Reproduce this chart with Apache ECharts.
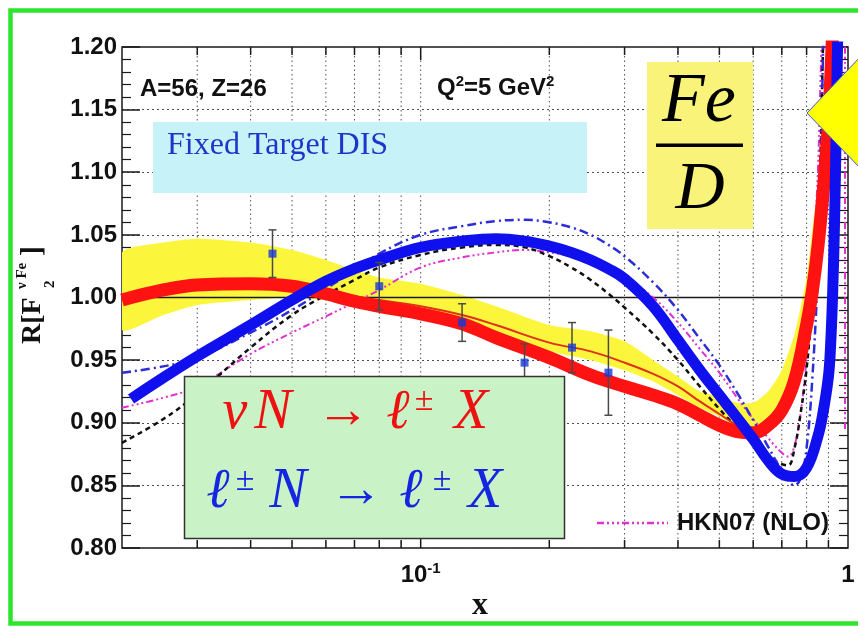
<!DOCTYPE html>
<html>
<head>
<meta charset="utf-8">
<title>R[F2] Fe/D</title>
<script src="https://cdn.jsdelivr.net/npm/echarts@6/dist/echarts.min.js"></script>
<style>
html,body{margin:0;padding:0;background:#fff;}
#chart{width:858px;height:628px;}
</style>
</head>
<body>
<div id="chart"></div>
<script>
// ---------------- data ----------------
const xGridValues = [0.03,0.04,0.05,0.06,0.07,0.08,0.09,0.1,0.2,0.3,0.4,0.5,0.6,0.7,0.8,0.9];
const xLabelValues = [0.1, 1];
const xLabelTexts = ['{m|10}{s|-1}', '{m|1}'];

const bandX  = [0.02,0.025,0.03,0.04,0.05,0.06,0.07,0.08,0.1,0.125,0.15,0.2,0.25,0.3,0.35,0.4,0.45,0.5,0.55,0.6,0.65,0.7,0.75,0.8,0.825,0.85,0.875];
const bandLo = [0.974,0.986,0.994,0.998,1.0,0.998,0.995,0.993,0.990,0.982,0.972,0.957,0.950,0.942,0.933,0.922,0.912,0.905,0.897,0.894,0.898,0.908,0.932,0.975,1.0,1.035,1.08];
const bandHi = [1.036,1.044,1.047,1.044,1.038,1.030,1.022,1.016,1.011,1.002,0.993,0.978,0.973,0.965,0.950,0.937,0.925,0.921,0.916,0.916,0.925,0.942,0.971,1.016,1.054,1.09,1.15];

const redThick = [[0.02,0.998],[0.025,1.006],[0.03,1.010],[0.04,1.011],[0.05,1.009],[0.06,1.003],[0.07,0.997],[0.08,0.993],[0.1,0.987],[0.125,0.979],[0.15,0.968],[0.2,0.952],[0.25,0.938],[0.3,0.929],[0.35,0.922],[0.4,0.915],[0.45,0.906],[0.5,0.898],[0.55,0.893],[0.6,0.892],[0.65,0.898],[0.7,0.910],[0.75,0.934],[0.8,0.978],[0.825,1.005],[0.85,1.04],[0.875,1.085],[0.9,1.14],[0.92,1.21]];
const redThin = [[0.02,0.998],[0.03,1.010],[0.04,1.011],[0.05,1.009],[0.06,1.005],[0.07,1.001],[0.08,0.998],[0.1,0.993],[0.125,0.986],[0.15,0.978],[0.2,0.964],[0.25,0.957],[0.3,0.948],[0.35,0.939],[0.4,0.929],[0.45,0.917],[0.5,0.907],[0.55,0.898],[0.6,0.893]];
const blueThick = [[0.021,0.919],[0.025,0.936],[0.03,0.953],[0.04,0.978],[0.05,0.998],[0.06,1.013],[0.07,1.023],[0.08,1.030],[0.1,1.040],[0.125,1.045],[0.15,1.047],[0.175,1.045],[0.2,1.041],[0.225,1.036],[0.25,1.030],[0.275,1.023],[0.3,1.015],[0.35,0.993],[0.4,0.966],[0.45,0.942],[0.5,0.922],[0.55,0.904],[0.6,0.887],[0.65,0.870],[0.7,0.859],[0.75,0.857],[0.8,0.864],[0.85,0.889],[0.875,0.909],[0.9,0.937],[0.91,0.96],[0.92,1.0],[0.93,1.06],[0.94,1.15],[0.95,1.25]];
const blackDashed = [[0.02,0.884],[0.025,0.903],[0.03,0.923],[0.04,0.960],[0.05,0.986],[0.06,1.002],[0.07,1.014],[0.08,1.024],[0.1,1.034],[0.125,1.040],[0.15,1.042],[0.175,1.040],[0.2,1.033],[0.225,1.024],[0.25,1.014],[0.275,1.003],[0.3,0.992],[0.35,0.971],[0.4,0.950],[0.45,0.929],[0.5,0.911],[0.55,0.896],[0.6,0.883],[0.65,0.873],[0.7,0.867],[0.725,0.866],[0.75,0.880],[0.775,0.908],[0.8,0.943],[0.825,0.995],[0.85,1.05],[0.86,1.10],[0.87,1.17],[0.88,1.25]];
const blueDashDot = [[0.02,0.940],[0.025,0.945],[0.03,0.952],[0.04,0.972],[0.05,0.990],[0.06,1.007],[0.07,1.022],[0.08,1.035],[0.1,1.050],[0.125,1.057],[0.15,1.061],[0.175,1.062],[0.2,1.060],[0.225,1.056],[0.25,1.050],[0.275,1.042],[0.3,1.033],[0.35,1.012],[0.4,0.990],[0.45,0.967],[0.5,0.946],[0.55,0.924],[0.6,0.902],[0.65,0.881],[0.7,0.862],[0.75,0.850],[0.775,0.856],[0.8,0.880],[0.825,0.935],[0.85,1.02],[0.86,1.08],[0.87,1.16],[0.88,1.25]];
const hkn07 = [[0.02,0.912],[0.025,0.920],[0.03,0.929],[0.04,0.955],[0.05,0.972],[0.06,0.985],[0.07,0.996],[0.08,1.006],[0.1,1.024],[0.125,1.032],[0.15,1.036],[0.175,1.038],[0.2,1.036],[0.225,1.033],[0.25,1.028],[0.275,1.023],[0.3,1.016],[0.35,1.0],[0.4,0.98],[0.45,0.959],[0.5,0.94],[0.55,0.92],[0.6,0.903],[0.65,0.888],[0.7,0.876],[0.725,0.873],[0.75,0.882],[0.775,0.908],[0.8,0.952],[0.825,1.015],[0.85,1.10],[0.86,1.16],[0.875,1.25]];
const hkn07Edge = [[0.984,0.895],[0.984,1.21]];

const dataX   = [0.045,0.08,0.125,0.175,0.226,0.275];
const dataY   = [1.035,1.009,0.980,0.948,0.960,0.940];
const dataErr = [0.019,0.019,0.015,0.015,0.020,0.034];

// ---------------- chart ----------------
const SANS = '"Liberation Sans", Arial, Helvetica, sans-serif';
const SERIF = '"Liberation Serif", "Times New Roman", "DejaVu Serif", serif';

function curve(name, data, color, width, dash, z) {
  return {type:'line', name, data, z, symbol:'none', showSymbol:false, smooth:0.4, clip:true, silent:true,
    lineStyle:{color, width, type: dash || 'solid', cap:'butt', join:'round'}};
}
function T(text, x, y, font, fill, align, vAlign, extra) {
  return Object.assign({type:'text', x, y, z:110, silent:true,
    style:{text, font, fill, align:align||'left', verticalAlign:vAlign||'middle',
           textAlign:align||'left', textVerticalAlign:vAlign||'middle'}}, extra||{});
}

const chart = echarts.init(document.getElementById('chart'), null, {renderer:'canvas'});

const yAxisBase = {
  type:'value', min:0.8, max:1.2, interval:0.05,
  axisLine:{show:false},
  axisTick:{show:true, inside:true, length:18, lineStyle:{color:'#1a1a1a', width:1.5}},
  minorTick:{show:true, splitNumber:5, length:9, lineStyle:{color:'#1a1a1a', width:1.2}}
};

const option = {
  animation:false,
  backgroundColor:'#ffffff',
  grid:{left:122, right:10, top:47, bottom:80, show:true, borderColor:'#1a1a1a', borderWidth:1.5, backgroundColor:'rgba(0,0,0,0)'},
  xAxis:{
    type:'log', logBase:10, min:0.02, max:1,
    axisLine:{show:false}, axisTick:{show:false}, splitLine:{show:false},
    axisLabel:{
      margin:13,
      formatter:function(v){
        const i = xLabelValues.findIndex(t => Math.abs(Math.log10(v) - Math.log10(t)) < 1e-6);
        return i < 0 ? '' : xLabelTexts[i];
      },
      rich:{
        m:{fontFamily:SANS, fontWeight:'bold', fontSize:24, color:'#111', lineHeight:28},
        s:{fontFamily:SANS, fontWeight:'bold', fontSize:15, color:'#111', lineHeight:16, verticalAlign:'top'}
      }
    }
  },
  yAxis:[
    Object.assign({}, yAxisBase, {
      position:'left',
      splitLine:{show:true, lineStyle:{color:'#505050', width:1, type:[2,3]}},
      axisLabel:{margin:5, formatter:v => v.toFixed(2), fontFamily:SANS, fontWeight:'bold', fontSize:24, color:'#111'}
    }),
    Object.assign({}, yAxisBase, {
      position:'right', splitLine:{show:false}, axisLabel:{show:false}
    })
  ],
  series:[
    { // vertical dotted grid + x ticks (log axis minor positions)
      type:'custom', z:1, silent:true, clip:false,
      data:xGridValues.map(v => [v, 1.0]),
      renderItem:function(params, api){
        const v = api.value(0);
        const top = api.coord([v, 1.2]), bot = api.coord([v, 0.8]);
        const tl = Math.abs(v - 0.1) < 1e-9 ? 13 : 8;
        return {type:'group', children:[
          {type:'line', shape:{x1:top[0], y1:top[1], x2:bot[0], y2:bot[1]}, style:{stroke:'#505050', lineWidth:1, lineDash:[1.5,3]}},
          {type:'line', shape:{x1:bot[0], y1:bot[1], x2:bot[0], y2:bot[1]-tl}, style:{stroke:'#1a1a1a', lineWidth:1.5}},
          {type:'line', shape:{x1:top[0], y1:top[1], x2:top[0], y2:top[1]+tl}, style:{stroke:'#1a1a1a', lineWidth:1.5}}
        ]};
      }
    },
    { // yellow uncertainty band
      type:'custom', z:2, silent:true, clip:true,
      data:bandX.map((x,i) => [x, bandLo[i], bandHi[i]]),
      renderItem:function(params, api){
        if (params.dataIndex !== 0) return null;
        const up = bandX.map((x,i) => api.coord([x, bandHi[i]]));
        const lo = bandX.map((x,i) => api.coord([x, bandLo[i]])).reverse();
        return {type:'polygon', shape:{points:up.concat(lo), smooth:0.2}, style:{fill:'#fbf63c'}};
      }
    },
    { // solid reference line at 1.00
      type:'custom', z:3, silent:true, clip:true,
      data:[[0.1, 1.0]],
      renderItem:function(params, api){
        const a = api.coord([0.02, api.value(1)]), b = api.coord([1, api.value(1)]);
        return {type:'line', shape:{x1:a[0], y1:a[1], x2:b[0], y2:b[1]}, style:{stroke:'#1a1a1a', lineWidth:1.5}};
      }
    },
    curve('HKN07 (NLO)', hkn07, '#e030d0', 2, [7,3,2,3,2,3,2,3], 4),
    curve('HKN07 edge', hkn07Edge, '#e030d0', 2, [7,3,2,3,2,3,2,3], 4),
    curve('black', blackDashed, '#111111', 2.5, [5,4], 4),
    curve('blue dash-dot', blueDashDot, '#2c2cd8', 2.5, [9,4,2,4], 4),
    curve('red thin', redThin, '#e0301a', 2, null, 4),
    curve('nuN', redThick, '#ff1212', 13, null, 5),
    curve('lN', blueThick, '#1010ee', 11, null, 6),
    { // error bars
      type:'custom', z:7, silent:true, clip:true,
      data:dataX.map((x,i) => [x, dataY[i]-dataErr[i], dataY[i]+dataErr[i]]),
      renderItem:function(params, api){
        const x = api.value(0);
        const lo = api.coord([x, api.value(1)]), hi = api.coord([x, api.value(2)]);
        const w = 4, st = {stroke:'#4a4a4a', lineWidth:1.5};
        return {type:'group', children:[
          {type:'line', shape:{x1:lo[0], y1:lo[1], x2:hi[0], y2:hi[1]}, style:st},
          {type:'line', shape:{x1:hi[0]-w, y1:hi[1], x2:hi[0]+w, y2:hi[1]}, style:st},
          {type:'line', shape:{x1:lo[0]-w, y1:lo[1], x2:lo[0]+w, y2:lo[1]}, style:st}
        ]};
      }
    },
    {
      type:'scatter', z:8, silent:true, symbol:'rect', symbolSize:8,
      itemStyle:{color:'#1838d8'},
      data:dataX.map((x,i) => [x, dataY[i]])
    }
  ],
  graphic:[
    // outer green frame
    {type:'rect', z:200, silent:true, shape:{x:10.5, y:10.5, width:900, height:613}, style:{fill:'none', stroke:'#2ee52e', lineWidth:4.5}},
    // texts top-left
    T('A=56, Z=26', 140, 89, 'bold 24px ' + SANS, '#111'),
    {type:'text', x:437, y:88, z:110, silent:true, style:{
      text:'{a|Q}{s|2}{a|=5 GeV}{s|2}', align:'left', verticalAlign:'middle', textAlign:'left', textVerticalAlign:'middle',
      rich:{
        a:{fontFamily:SANS, fontWeight:'bold', fontSize:24, fill:'#111', color:'#111', lineHeight:28},
        s:{fontFamily:SANS, fontWeight:'bold', fontSize:15, fill:'#111', color:'#111', lineHeight:15, verticalAlign:'top'}
      }}},
    // cyan box
    {type:'rect', z:100, silent:true, shape:{x:153, y:122, width:434, height:71}, style:{fill:'#c7f3f8'}},
    T('Fixed Target DIS', 167, 146, '32px ' + SERIF, '#1f35c9'),
    // Fe / D box
    {type:'rect', z:100, silent:true, shape:{x:647, y:62, width:106, height:167}, style:{fill:'#faf37a'}},
    T('Fe', 699, 103, 'italic 70px ' + SERIF, '#000', 'center'),
    {type:'rect', z:110, silent:true, shape:{x:656, y:143.5, width:87, height:3.5}, style:{fill:'#000'}},
    T('D', 700, 190, 'italic 68px ' + SERIF, '#000', 'center'),
    // yellow arrow head at right
    {type:'polygon', z:150, silent:true, shape:{points:[[807,113],[862,55],[862,170]]}, style:{fill:'#ffff00', stroke:'#3a5ad8', lineWidth:1}},
    // green box
    {type:'rect', z:100, silent:true, shape:{x:184.5, y:376.5, width:380, height:162}, style:{fill:'#c9f3c6', stroke:'#333', lineWidth:1.5}},
    // line 1: nu N -> l+- X (red)
    T('ν', 235, 413, 'italic 56px ' + SERIF, '#ee1111', 'center'),
    T('N', 273, 413, 'italic 56px ' + SERIF, '#ee1111', 'center'),
    T('→', 343, 413, '54px ' + SERIF, '#ee1111', 'center'),
    T('ℓ', 398, 413, 'italic 56px ' + SERIF, '#ee1111', 'center'),
    T('±', 424, 401, '34px ' + SERIF, '#ee1111', 'center'),
    T('X', 471, 413, 'italic 56px ' + SERIF, '#ee1111', 'center'),
    // line 2: l+- N -> l+- X (blue)
    T('ℓ', 218, 492, 'italic 56px ' + SERIF, '#1626e0', 'center'),
    T('±', 245, 481, '34px ' + SERIF, '#1626e0', 'center'),
    T('N', 288, 492, 'italic 56px ' + SERIF, '#1626e0', 'center'),
    T('→', 356, 492, '54px ' + SERIF, '#1626e0', 'center'),
    T('ℓ', 411, 492, 'italic 56px ' + SERIF, '#1626e0', 'center'),
    T('±', 442, 481, '34px ' + SERIF, '#1626e0', 'center'),
    T('X', 485, 492, 'italic 56px ' + SERIF, '#1626e0', 'center'),
    // HKN07 legend
    {type:'line', z:110, silent:true, shape:{x1:597, y1:523, x2:668, y2:523}, style:{stroke:'#e030d0', lineWidth:2.5, lineDash:[7,3,2,3,2,3,2,3]}},
    T('HKN07 (NLO)', 677, 523, 'bold 24px ' + SANS, '#111'),
    // axis titles
    T('x', 480, 606, 'bold 32px ' + SERIF, '#111', 'center'),
    T('R[F', 33, 344, 'bold 28px ' + SERIF, '#111', 'left', 'middle', {rotation:Math.PI/2}),
    T('ν Fe', 22, 289, 'bold 15px ' + SERIF, '#111', 'left', 'middle', {rotation:Math.PI/2}),
    T('2', 50, 288, 'bold 15px ' + SERIF, '#111', 'left', 'middle', {rotation:Math.PI/2}),
    T(']', 33, 256, 'bold 30px ' + SERIF, '#111', 'left', 'middle', {rotation:Math.PI/2})
  ]
};

chart.setOption(option);
</script>
</body>
</html>
